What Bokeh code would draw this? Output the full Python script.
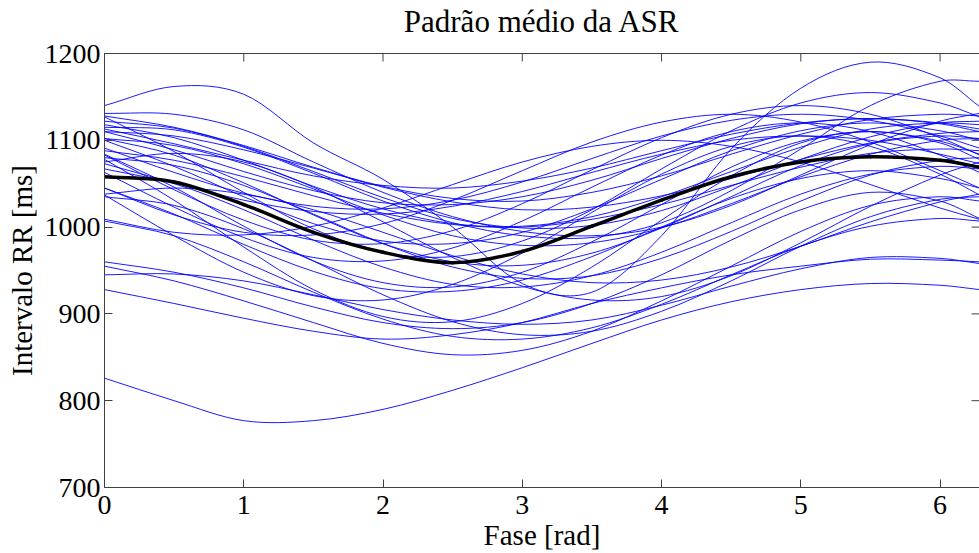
import math
from bokeh.plotting import figure
from bokeh.models import ColumnDataSource, LinearAxis, FixedTicker, CustomJSTickFormatter
from bokeh.embed import file_html
from bokeh.resources import INLINE

phase = [0, 0.5, 1.0, 1.5, 2.0, 2.5, 3.0, 3.5, 4.0, 4.5, 5.0, 5.5, 6.0, 2 * math.pi]

# individual RR-interval patterns [ms]
rr01 = [1140, 1162, 1153, 1097, 1055, 1000, 935, 925, 990, 1090, 1160, 1190, 1172, 1139]
rr02 = [1131, 1130, 1112, 1075, 1040, 1012, 995, 990, 1000, 1025, 1060, 1095, 1122, 1131]
rr03 = [1122, 1114, 1093, 1064, 1034, 1010, 999, 1002, 1019, 1047, 1078, 1104, 1120, 1122]
rr04 = [1128, 1115, 1094, 1069, 1047, 1033, 1030, 1040, 1059, 1084, 1107, 1124, 1130, 1128]
rr05 = [1118, 1103, 1077, 1047, 1021, 1004, 1001, 1012, 1035, 1064, 1092, 1113, 1120, 1118]
rr06 = [1115, 1112, 1092, 1062, 1030, 1005, 990, 988, 1005, 1042, 1090, 1140, 1168, 1168]
rr07 = [1113, 1096, 1077, 1059, 1048, 1045, 1053, 1068, 1088, 1107, 1120, 1125, 1120, 1113]
rr08 = [1110, 1105, 1089, 1068, 1046, 1029, 1020, 1023, 1036, 1056, 1078, 1097, 1108, 1110]
rr09 = [1110, 1089, 1064, 1042, 1028, 1026, 1035, 1054, 1079, 1102, 1119, 1125, 1119, 1110]
rr10 = [1127, 1087, 1040, 998, 971, 966, 984, 1020, 1067, 1111, 1143, 1155, 1143, 1127]
rr11 = [1102, 1094, 1073, 1044, 1014, 990, 979, 982, 999, 1027, 1058, 1084, 1100, 1102]
rr12 = [1102, 1083, 1051, 1014, 981, 960, 956, 970, 999, 1035, 1071, 1096, 1105, 1102]
rr13 = [1100, 1070, 1035, 1004, 984, 981, 994, 1021, 1055, 1088, 1111, 1120, 1111, 1100]
rr14 = [1091, 1063, 1039, 1024, 1021, 1031, 1052, 1079, 1105, 1123, 1130, 1123, 1105, 1091]
rr15 = [1088, 1077, 1058, 1036, 1016, 1003, 1000, 1009, 1026, 1048, 1069, 1085, 1090, 1088]
rr16 = [1084, 1046, 1001, 961, 936, 931, 948, 983, 1026, 1069, 1099, 1110, 1099, 1084]
rr17 = [1083, 1043, 1008, 985, 981, 996, 1027, 1066, 1103, 1130, 1140, 1130, 1103, 1083]
rr18 = [1080, 1071, 1048, 1015, 981, 954, 941, 944, 964, 995, 1030, 1060, 1077, 1080]
rr19 = [1078, 1031, 977, 928, 897, 891, 912, 954, 1008, 1059, 1097, 1110, 1097, 1078]
rr20 = [1075, 1085, 1075, 1046, 1006, 965, 932, 916, 920, 944, 982, 1024, 1060, 1075]
rr21 = [1073, 1051, 1031, 1018, 1015, 1024, 1041, 1063, 1084, 1100, 1105, 1100, 1084, 1073]
rr22 = [1067, 1050, 1020, 985, 954, 934, 931, 944, 971, 1005, 1038, 1061, 1070, 1067]
rr23 = [1063, 1023, 988, 965, 961, 976, 1007, 1046, 1083, 1110, 1120, 1110, 1083, 1063]
rr24 = [1045, 1014, 994, 991, 1004, 1031, 1065, 1098, 1121, 1130, 1121, 1098, 1065, 1045]
rr25 = [1045, 1015, 980, 949, 929, 926, 939, 966, 1000, 1033, 1056, 1065, 1056, 1045]
rr26 = [1038, 1045, 1038, 1020, 994, 967, 946, 936, 939, 954, 978, 1006, 1029, 1038]
rr27 = [1037, 990, 948, 921, 916, 934, 970, 1017, 1061, 1093, 1105, 1093, 1061, 1037]
rr28 = [1035, 1025, 998, 961, 922, 891, 876, 880, 903, 938, 978, 1012, 1032, 1035]
rr29 = [1007, 990, 960, 925, 894, 874, 871, 884, 911, 945, 978, 1001, 1010, 1007]
rr30 = [1009, 994, 991, 1001, 1022, 1049, 1075, 1093, 1100, 1093, 1075, 1049, 1022, 1009]
rr31 = [960, 948, 930, 908, 890, 883, 890, 912, 945, 985, 1020, 1040, 1030, 1010]
rr32 = [955, 938, 915, 890, 866, 853, 858, 880, 915, 955, 995, 1025, 1035, 1030]
rr33 = [945, 946, 938, 922, 905, 893, 888, 893, 910, 932, 952, 965, 964, 958]
rr34 = [928, 912, 895, 880, 871, 876, 890, 912, 930, 945, 955, 963, 962, 960]
rr35 = [826, 800, 777, 777, 790, 812, 838, 866, 893, 914, 928, 935, 933, 928]

# mean pattern [ms]
rr_mean = [1058, 1052, 1026, 994, 971, 959, 972, 1001, 1031, 1058, 1075, 1081, 1077, 1069]

curves = [rr01, rr02, rr03, rr04, rr05, rr06, rr07, rr08, rr09, rr10,
          rr11, rr12, rr13, rr14, rr15, rr16, rr17, rr18, rr19, rr20,
          rr21, rr22, rr23, rr24, rr25, rr26, rr27, rr28, rr29, rr30,
          rr31, rr32, rr33, rr34, rr35]

x_ticks = [0, 1, 2, 3, 4, 5, 6]
y_ticks = [700, 800, 900, 1000, 1100, 1200]
title_text = "Padrão médio da ASR"

FONT = "Liberation Serif"
AX = "#404040"
X_MAX = 2 * math.pi


def smooth_segments(xs, ys):
    """Cubic (Catmull-Rom / Hermite) Bezier pieces through the read points."""
    n = len(xs)
    slopes = []
    for i in range(n):
        if i == 0:
            s = (ys[1] - ys[0]) / (xs[1] - xs[0])
        elif i == n - 1:
            s = (ys[-1] - ys[-2]) / (xs[-1] - xs[-2])
        else:
            s = (ys[i + 1] - ys[i - 1]) / (xs[i + 1] - xs[i - 1])
        slopes.append(s)
    seg = dict(x0=[], y0=[], x1=[], y1=[], cx0=[], cy0=[], cx1=[], cy1=[])
    for i in range(n - 1):
        h = xs[i + 1] - xs[i]
        seg["x0"].append(xs[i]); seg["y0"].append(ys[i])
        seg["x1"].append(xs[i + 1]); seg["y1"].append(ys[i + 1])
        seg["cx0"].append(xs[i] + h / 3); seg["cy0"].append(ys[i] + slopes[i] * h / 3)
        seg["cx1"].append(xs[i + 1] - h / 3); seg["cy1"].append(ys[i + 1] - slopes[i + 1] * h / 3)
    return seg


p = figure(width=979, height=553, x_range=(0, X_MAX), y_range=(y_ticks[0], y_ticks[-1]),
           output_backend="svg", toolbar_location=None,
           min_border_left=104, min_border_right=0, min_border_top=53,
           min_border_bottom=62, background_fill_color="white",
           border_fill_color="white")
p.outline_line_color = None
p.grid.visible = False

blue = dict(x0=[], y0=[], x1=[], y1=[], cx0=[], cy0=[], cx1=[], cy1=[])
for c in curves:
    s = smooth_segments(phase, c)
    for k in blue:
        blue[k].extend(s[k])
p.bezier("x0", "y0", "x1", "y1", "cx0", "cy0", "cx1", "cy1",
         source=ColumnDataSource(blue), line_color="#0000ff", line_width=1, line_alpha=0.9)

mean_src = ColumnDataSource(smooth_segments(phase, rr_mean))
p.bezier("x0", "y0", "x1", "y1", "cx0", "cy0", "cx1", "cy1",
         source=mean_src, line_color="black", line_width=3.5, line_cap="round")

for ax in (p.xaxis[0], p.yaxis[0]):
    ax.axis_line_color = AX
    ax.major_tick_line_color = AX
    ax.major_tick_in = 8
    ax.major_tick_out = 0
    ax.minor_tick_line_color = None
    ax.major_label_text_font = FONT
    ax.major_label_text_font_size = "28px"
    ax.major_label_text_color = "black"
    ax.axis_label_text_font = FONT
    ax.axis_label_text_font_size = "29px"
    ax.axis_label_text_font_style = "normal"
    ax.axis_label_text_color = "black"

p.xaxis[0].ticker = FixedTicker(ticks=x_ticks)
p.yaxis[0].ticker = FixedTicker(ticks=y_ticks)
p.xaxis[0].axis_label = "Fase [rad]"
p.yaxis[0].axis_label = "Intervalo RR [ms]"
p.xaxis[0].major_label_standoff = 8
p.xaxis[0].axis_label_standoff = 2
p.yaxis[0].major_label_standoff = 4
p.yaxis[0].axis_label_standoff = 4

# top border line; its single centred label carries the chart title
top = LinearAxis(ticker=FixedTicker(ticks=[X_MAX / 2]),
                 formatter=CustomJSTickFormatter(args=dict(t=title_text), code="return t;"))
top.axis_line_color = AX
top.major_tick_line_color = None
top.minor_tick_line_color = None
top.major_label_standoff = 9
top.major_label_text_font = FONT
top.major_label_text_font_size = "31px"
top.major_label_text_color = "black"
p.add_layout(top, "above")

# inward tick marks on the top and right edges of the box
p.scatter(x_ticks, [y_ticks[-1]] * len(x_ticks), marker="dash", angle=math.pi / 2,
          size=16, line_color=AX, line_width=1)
p.scatter([X_MAX] * len(y_ticks), y_ticks, marker="dash",
          size=16, line_color=AX, line_width=1)

open("out.html", "w").write(file_html(p, INLINE))
